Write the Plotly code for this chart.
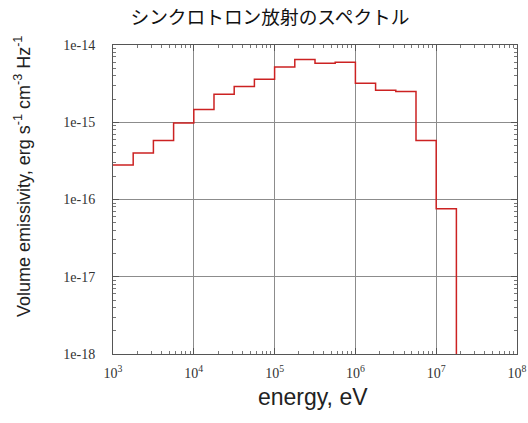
import plotly.graph_objects as go

# bin edges (eV) and emissivity per bin (erg s^-1 cm^-3 Hz^-1)
bin_edges = [1.0e3, 1.778e3, 3.162e3, 5.623e3, 1.0e4, 1.778e4, 3.162e4, 5.623e4,
             1.0e5, 1.778e5, 3.162e5, 5.623e5, 1.0e6, 1.778e6, 3.162e6, 5.623e6,
             1.0e7, 1.778e7]
emissivity = [2.8e-16, 4.0e-16, 5.8e-16, 9.8e-16, 1.46e-15, 2.3e-15, 2.9e-15, 3.6e-15,
              5.2e-15, 6.5e-15, 5.8e-15, 6.0e-15, 3.2e-15, 2.6e-15, 2.5e-15, 5.8e-16,
              7.6e-17, 1e-30]

x_tickvals = [1e3, 1e4, 1e5, 1e6, 1e7, 1e8]
x_ticktext = ["10<sup>3</sup>", "10<sup>4</sup>", "10<sup>5</sup>", "10<sup>6</sup>",
              "10<sup>7</sup>", "10<sup>8</sup>"]
y_tickvals = [1e-18, 1e-17, 1e-16, 1e-15, 1e-14]
y_ticktext = ["1e-18", "1e-17", "1e-16", "1e-15", "1e-14"]

x_minor = [m * 10.0 ** k for k in range(3, 8) for m in range(2, 10)]
y_minor = [m * 10.0 ** k for k in range(-18, -14) for m in range(2, 10)]

fig = go.Figure()
fig.add_trace(go.Scatter(
    x=bin_edges, y=emissivity, mode="lines", line_shape="hv",
    line=dict(color="#cc2222", width=1.5), showlegend=False, hoverinfo="skip"))

axis_common = dict(
    showline=True, linecolor="#555555", linewidth=1, mirror="allticks",
    ticks="inside", ticklen=6, tickcolor="#555555",
    showgrid=True, gridcolor="#8c8c8c", gridwidth=1, zeroline=False,
    automargin=False,
)

fig.update_xaxes(type="log", range=[3, 8], tickvals=x_tickvals, ticktext=x_ticktext,
                 tickfont=dict(family="Liberation Serif", size=14, color="#333333"),
                 ticklabelstandoff=6,
                 minor=dict(ticks="inside", ticklen=3, tickcolor="#777777", showgrid=False,
                            tickmode="array", tickvals=x_minor),
                 **axis_common)
fig.update_yaxes(type="log", range=[-18, -14], tickvals=y_tickvals, ticktext=y_ticktext,
                 tickfont=dict(family="Liberation Serif", size=14, color="#333333"),
                 ticklabelstandoff=14,
                 minor=dict(ticks="inside", ticklen=3, tickcolor="#777777", showgrid=False,
                            tickmode="array", tickvals=y_minor),
                 **axis_common)

fig.update_layout(
    width=528, height=423,
    margin=dict(l=113, r=11, t=45, b=69),
    paper_bgcolor="white", plot_bgcolor="white",
    title=dict(text="シンクロトロン放射のスペクトル", x=270 / 528, xanchor="center",
               y=1 - 17 / 423, yanchor="middle",
               font=dict(family="Noto Sans CJK JP", size=18.7, color="#111111")),
    annotations=[
        dict(text="energy, eV", xref="paper", yref="paper",
             x=(313 - 113) / 404, y=-(397 - 354) / 309, xanchor="center", yanchor="middle",
             showarrow=False, font=dict(family="Liberation Sans", size=23, color="#222222")),
        dict(text="Volume emissivity, erg s<sup>-1</sup> cm<sup>-3</sup> Hz<sup>-1</sup>",
             xref="paper", yref="paper", textangle=-90,
             x=(22 - 113) / 404, y=(354 - 177) / 309, xanchor="center", yanchor="middle",
             showarrow=False, font=dict(family="Liberation Sans", size=18, color="#222222")),
    ],
)

fig.write_html("out.html", config={"displayModeBar": False},
               post_script="document.body.style.margin='0';document.body.style.overflow='hidden';")
